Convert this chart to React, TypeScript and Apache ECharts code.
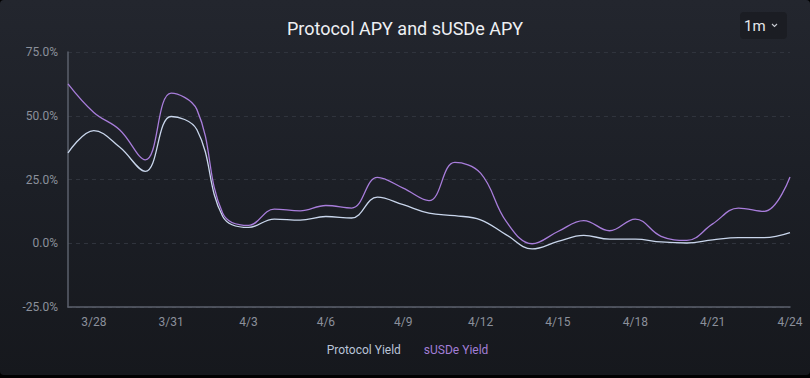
import React, { useEffect, useRef } from "react";
import * as echarts from "echarts";

const dates = [
  "3/27", "3/28", "3/29", "3/30", "3/31", "4/1", "4/2", "4/3", "4/4", "4/5",
  "4/6", "4/7", "4/8", "4/9", "4/10", "4/11", "4/12", "4/13", "4/14", "4/15",
  "4/16", "4/17", "4/18", "4/19", "4/20", "4/21", "4/22", "4/23", "4/24",
];

const protocolYield = [
  35.4, 44.2, 37.7, 28.2, 49.7, 44.5, 10.5, 6.2, 9.5, 9.1,
  10.5, 9.9, 18.1, 15.1, 11.8, 10.8, 9.2, 3.3, -2.2, 0.7,
  3.1, 1.6, 1.6, 0.5, 0.1, 1.3, 2.2, 2.2, 4.2,
];

const susdeYield = [
  62.5, 51.3, 44.5, 32.7, 58.9, 52.4, 11.8, 7.0, 13.4, 12.7,
  14.8, 13.8, 25.8, 21.6, 16.7, 31.7, 27.5, 8.5, -0.2, 4.6,
  8.9, 4.9, 9.5, 2.7, 1.1, 7.6, 13.8, 12.5, 26.0,
];

const yTicks = { min: -25, max: 75, interval: 25 };

const seriesNames = ["Protocol Yield", "sUSDe Yield"];
const titleText = "Protocol APY and sUSDe APY";
const rangeLabel = "1m";

export default function App() {
  const ref = useRef<HTMLDivElement>(null);

  useEffect(() => {
    if (!ref.current) return;
    const chart = echarts.init(ref.current, null, { renderer: "svg" });
    const font = "Roboto, 'Noto Sans', sans-serif";
    chart.setOption({
      animation: false,
      backgroundColor: "transparent",
      title: {
        text: titleText,
        left: "center",
        top: 14,
        textStyle: { color: "#eef0f3", fontSize: 18, fontWeight: "normal", fontFamily: font },
      },
      legend: {
        bottom: 14,
        left: "center",
        itemWidth: 0,
        itemHeight: 0,
        itemGap: 18,
        icon: "none",
        data: [
          { name: seriesNames[0], textStyle: { color: "#b9c4d8" } },
          { name: seriesNames[1], textStyle: { color: "#a27ed6" } },
        ],
        textStyle: { fontSize: 12, fontFamily: font },
      },
      grid: { left: 68, right: 20, top: 52, bottom: 68 },
      xAxis: {
        type: "category",
        data: dates,
        boundaryGap: false,
        axisLine: { show: true, onZero: false, lineStyle: { color: "#5b606c", width: 1.5 } },
        axisTick: { show: false },
        axisLabel: {
          color: "#8b909b",
          fontSize: 12,
          fontFamily: font,
          margin: 9,
          interval: (idx: number) => (idx - 1) % 3 === 0,
        },
        splitLine: { show: false },
      },
      yAxis: {
        type: "value",
        min: yTicks.min,
        max: yTicks.max,
        interval: yTicks.interval,
        axisLine: { show: true, lineStyle: { color: "#5b606c", width: 1.5 } },
        axisTick: { show: false },
        axisLabel: {
          color: "#8b909b",
          fontSize: 12,
          fontFamily: font,
          margin: 10,
          formatter: (v: number) => v.toFixed(1) + "%",
        },
        splitLine: { show: true, lineStyle: { color: "#30343d", type: [4, 4], width: 1 } },
      },
      series: [
        {
          name: seriesNames[0],
          type: "line",
          data: protocolYield,
          smooth: 0.4,
          showSymbol: false,
          lineStyle: { color: "#c9d6ec", width: 1.3 },
          itemStyle: { color: "#c9d6ec" },
        },
        {
          name: seriesNames[1],
          type: "line",
          data: susdeYield,
          smooth: 0.4,
          showSymbol: false,
          lineStyle: { color: "#a87ddb", width: 1.3 },
          itemStyle: { color: "#a87ddb" },
        },
      ],
      graphic: [
        {
          type: "group",
          left: 740,
          top: 12,
          children: [
            {
              type: "rect",
              shape: { x: 0, y: 0, width: 47, height: 27, r: 4 },
              style: { fill: "#1b1d23" },
            },
            {
              type: "text",
              x: 4,
              y: 6,
              style: { text: rangeLabel, fill: "#e6e8ec", fontSize: 15, fontFamily: font },
            },
            {
              type: "polyline",
              shape: { points: [[32, 12], [34.5, 14.5], [37, 12]] },
              style: { stroke: "#c8cbd2", lineWidth: 1.1, fill: "none" },
            },
          ],
        },
      ],
    });
    return () => chart.dispose();
  }, []);

  return (
    <div style={{ position: "fixed", left: 0, top: 0, width: 810, height: 378, background: "#000" }}>
      <div
        style={{
          position: "absolute",
          left: 0,
          top: 0,
          width: 810,
          height: 375,
          borderRadius: 4,
          background: "linear-gradient(180deg, #23262e 0%, #1c1f26 50%, #16181d 100%)",
        }}
      >
        <div ref={ref} style={{ width: 810, height: 375 }} />
      </div>
    </div>
  );
}
